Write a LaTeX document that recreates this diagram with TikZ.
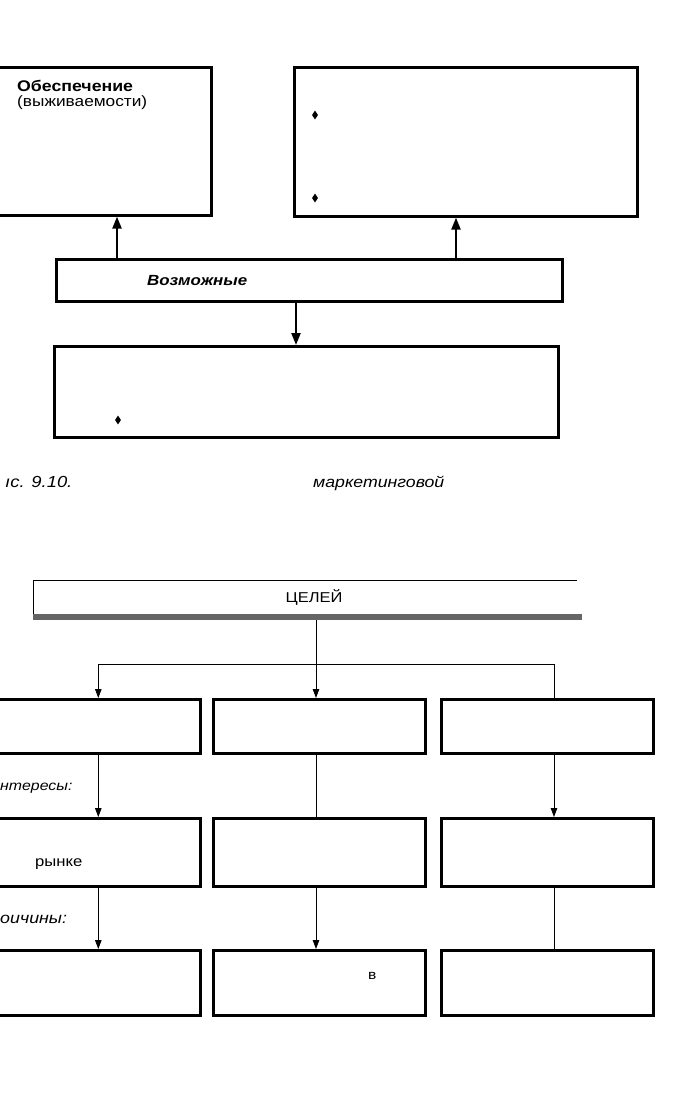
\documentclass[tikz,border=0pt]{standalone}
\usepackage{fontspec}
\setmainfont{Liberation Sans}[FakeStretch=1.15]
\usetikzlibrary{arrows.meta,shapes.geometric,calc}
\begin{document}
\begin{tikzpicture}[x=1pt,y=-1pt,
  box/.style={draw,line width=2.6pt,inner sep=0pt,anchor=north west},
  bigarrow/.style={line width=2.2pt,-{Triangle[width=9pt,length=12pt]}},
  smallarrow/.style={line width=0.8pt,-{Triangle[width=6.5pt,length=9pt]}},
  thinline/.style={line width=0.8pt},
  bullet/.style={diamond,fill=black,inner sep=0pt,minimum width=6pt,minimum height=9pt},
  txt/.style={inner sep=0pt,anchor=base west},
]
\useasboundingbox (0,0) rectangle (698,1120);

% ---------- upper figure ----------
\node[box,minimum width=225pt,minimum height=148pt] (A) at (-15,66) {};
\node[box,minimum width=343pt,minimum height=149pt] (B) at (293,66) {};
\node[box,minimum width=506pt,minimum height=42pt] (M) at (55,258) {};
\node[box,minimum width=504pt,minimum height=91pt] (C) at (53,345) {};

\node[txt,font=\bfseries\fontsize{15.4}{18}\selectfont] (a1) at (17,91) {Обеспечение};
\node[txt,font=\fontsize{15}{18}\selectfont] (a2) at (17,106) {(выживаемости)};
\node[txt,font=\bfseries\itshape\fontsize{14.7}{17}\selectfont] (m1) at (147,285) {Возможные};

\node[bullet] (b1) at (315,115) {};
\node[bullet] (b2) at (315,198) {};
\node[bullet] (c1) at (118,420) {};

\coordinate (ma) at (117,258);
\coordinate (mb) at (456,258);
\coordinate (mc) at (296,300);
\draw[bigarrow] (ma) -- (ma |- A.south);
\draw[bigarrow] (mb) -- (mb |- B.south);
\draw[bigarrow] (mc) -- (mc |- C.north);

\node[txt,font=\itshape\fontsize{16}{19}\selectfont] (cap1) at (5,487) {ıc. 9.10.};
\node[txt,font=\itshape\fontsize{15.4}{18}\selectfont] (cap2) at (313,487) {маркетинговой};

% ---------- lower figure ----------
\node[inner sep=0pt,anchor=north west,minimum width=544pt,minimum height=34pt] (T) at (33,580) {};
\draw[thinline] (T.south west) -- (T.north west) -- (T.north east);
\fill[black!60] (T.south west) rectangle ($(T.south east)+(5,6)$);
\node[inner sep=0pt,font=\fontsize{14.3}{17}\selectfont] (t1) at (314,597) {ЦЕЛЕЙ};

\node[box,minimum width=204pt,minimum height=54pt] (L1) at (-5,698) {};
\node[box,minimum width=212pt,minimum height=54pt] (C1) at (212,698) {};
\node[box,minimum width=212pt,minimum height=54pt] (R1) at (440,698) {};
\node[box,minimum width=204pt,minimum height=68pt] (L2) at (-5,817) {};
\node[box,minimum width=212pt,minimum height=68pt] (C2) at (212,817) {};
\node[box,minimum width=212pt,minimum height=68pt] (R2) at (440,817) {};
\node[box,minimum width=204pt,minimum height=65pt] (L3) at (-5,949) {};
\node[box,minimum width=212pt,minimum height=65pt] (C3) at (212,949) {};
\node[box,minimum width=212pt,minimum height=65pt] (R3) at (440,949) {};

\coordinate (tb) at (316,620);
\coordinate (j) at (316,664);
\coordinate (r1) at (554,698);
\coordinate (r1b) at (554,752);
\coordinate (r2) at (554,817);
\coordinate (r2b) at (554,885);
\coordinate (r3) at (554,949);

\draw[smallarrow] (tb) -- (tb |- C1.north);
\draw[smallarrow] (j) -| (L1.north);
\draw[thinline] (j) -| (r1);

\draw[smallarrow] (L1.south) -- (L2.north);
\draw[thinline] (tb |- C1.south) -- (tb |- C2.north);
\draw[smallarrow] (r1b) -- (r2);

\draw[smallarrow] (L2.south) -- (L3.north);
\draw[smallarrow] (tb |- C2.south) -- (tb |- C3.north);
\draw[thinline] (r2b) -- (r3);

\node[txt,font=\itshape\fontsize{13.8}{16}\selectfont] (i1) at (0,790) {нтересы:};
\node[txt,font=\fontsize{14.5}{17}\selectfont] (i2) at (35,866) {рынке};
\node[txt,font=\itshape\fontsize{15.5}{18}\selectfont] (i3) at (0,923) {оичины:};
\node[txt,font=\fontsize{13.5}{16}\selectfont] (i4) at (368,979) {в};
\end{tikzpicture}
\end{document}
